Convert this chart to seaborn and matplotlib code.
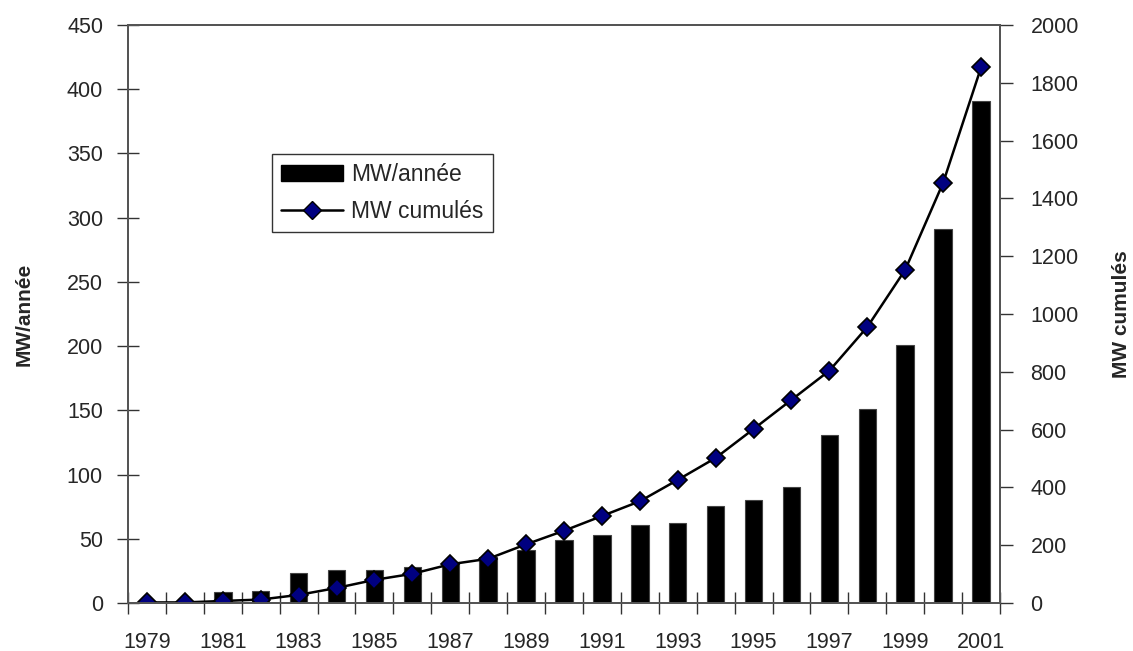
import numpy as np
import pandas as pd
import matplotlib
matplotlib.use("Agg")
import matplotlib.pyplot as plt
import seaborn as sns
from matplotlib.patches import Patch
from matplotlib.lines import Line2D

# values
years = [str(y) for y in range(1979, 2002)]
mw_per_year = [0, 0, 8.5, 9.5, 23.5, 25.5, 25.5, 28, 31.5, 36, 41, 49, 53, 60.5, 62.5,
               75.5, 80.5, 90.5, 130.5, 151, 201, 291, 391]
mw_cumul = [2, 2, 7, 12, 28, 52, 80, 101, 134, 153, 203, 250, 301, 352, 426,
            502, 602, 703, 804, 955, 1153, 1454, 1853]
left_ticks = list(range(0, 451, 50))
right_ticks = list(range(0, 2001, 200))
label_years = years[::2]

df = pd.DataFrame({"year": years, "an": mw_per_year, "cum": mw_cumul})

sns.set_style("ticks")
plt.rcParams["font.family"] = ["Liberation Sans", "DejaVu Sans"]

fig = plt.figure(figsize=(11.33, 6.51), dpi=100)
ax = fig.add_axes([128 / 1133, 1 - 603 / 651, 872 / 1133, 578 / 651])

sns.barplot(data=df, x="year", y="an", color="black", width=0.46,
            edgecolor="#444444", linewidth=0.8, saturation=1, ax=ax)

ax2 = ax.twinx()
sns.pointplot(data=df, x="year", y="cum", color="black", marker="D",
              markersize=9, markerfacecolor="#000080", markeredgecolor="black",
              markeredgewidth=1.2, linewidth=1.8, errorbar=None, ax=ax2)

ax.set_xlim(-0.5, len(years) - 0.5)
ax.set_ylim(0, 450)
ax2.set_ylim(0, 2000)
ax.set_yticks(left_ticks)
ax2.set_yticks(right_ticks)

# year labels every other year, tick marks between categories
ax.set_xticks(range(0, len(years), 2))
ax.set_xticklabels(label_years)
ax.set_xticks(np.arange(-0.5, len(years), 1), minor=True)
ax.tick_params(axis="x", which="major", length=0, pad=21, labelsize=15.5)
ax.tick_params(axis="x", which="minor", direction="inout", length=16,
               width=1, color="#333333")
ax.tick_params(axis="y", direction="inout", length=16, width=1,
               color="#333333", pad=10, labelsize=15.5)
ax2.tick_params(axis="y", direction="out", length=9, width=1,
                color="#333333", pad=13, labelsize=15.5)

ax.set_xlabel("")
ax.set_ylabel("MW/année", fontsize=15, fontweight="bold", labelpad=24)
ax2.set_ylabel("MW cumulés", fontsize=15, fontweight="bold", labelpad=24)

for a in (ax, ax2):
    for side in ["left", "right", "top", "bottom"]:
        a.spines[side].set_visible(True)
        a.spines[side].set_color("#555555")
        a.spines[side].set_linewidth(1.4)

handles = [Patch(facecolor="black", edgecolor="black"),
           Line2D([0], [0], color="black", lw=1.8, marker="D", markersize=9,
                  markerfacecolor="#000080", markeredgecolor="black")]
leg = fig.legend(handles, ["MW/année", "MW cumulés"], loc="upper left",
                 bbox_to_anchor=(272 / 1133, 1 - 154 / 651), fontsize=16.5,
                 frameon=True, fancybox=False, borderpad=0.4,
                 handlelength=2.7, handletextpad=0.35, labelspacing=0.6,
                 borderaxespad=0)
leg.get_frame().set_edgecolor("black")
leg.get_frame().set_linewidth(1.0)

fig.savefig("out.png", dpi=100)
